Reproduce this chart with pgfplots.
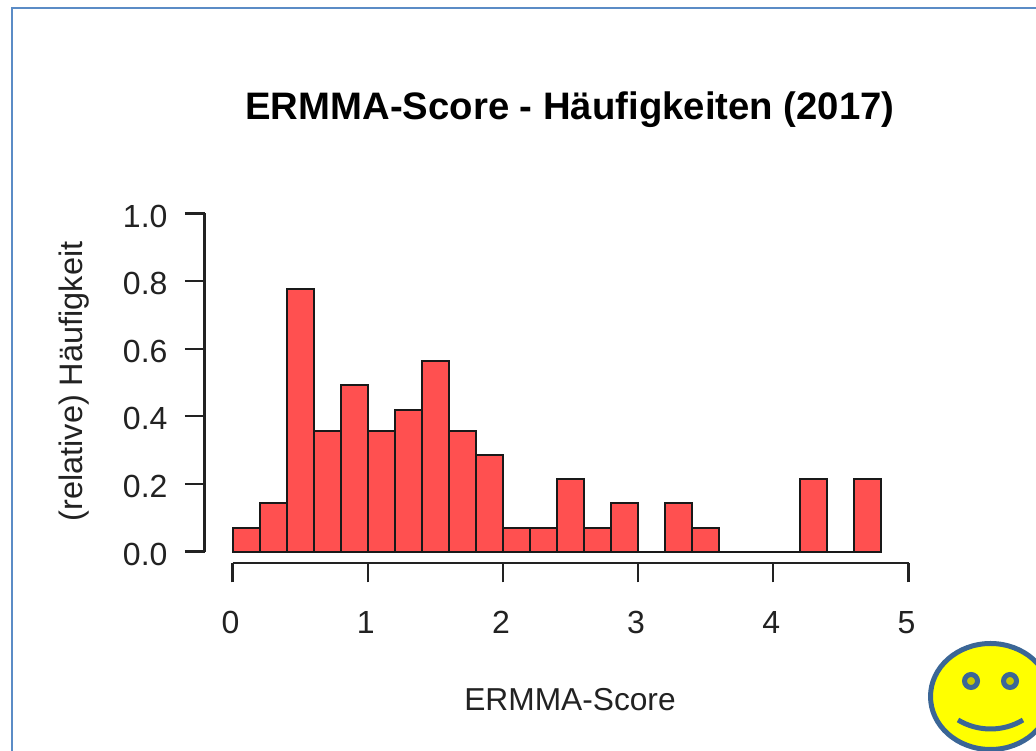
\documentclass[border=0pt]{standalone}
\usepackage{pgfplots}
\pgfplotsset{compat=1.18}
\usepackage{fontspec}
\setmainfont{Liberation Sans}
\definecolor{txt}{HTML}{222222}
\definecolor{frameblue}{HTML}{5B8CC6}
\definecolor{smile}{HTML}{3B6696}
\definecolor{barred}{HTML}{FF5050}
\definecolor{puryellow}{HTML}{FFFF00}
\definecolor{eyeyellow}{HTML}{C8C800}
\begin{document}
\begin{tikzpicture}[x=1pt,y=1pt]
\useasboundingbox (0,0) rectangle (1036,751);
\clip (0,0) rectangle (1036,751);
\fill[white] (0,0) rectangle (1036,751);
\draw[frameblue,line width=1.6pt] (12,-5) -- (12,743) -- (1040,743);
\begin{axis}[
  at={(204.5pt,188pt)}, anchor=south west,
  scale only axis, width=704pt, height=349.5pt,
  xmin=-0.2071, xmax=5, ymin=-0.034, ymax=1,
  axis lines=left, axis line style={draw=none,-},
  clip=false,
  xtick={0,1,2,3,4,5}, ytick={0,0.2,0.4,0.6,0.8,1},
  tick align=outside, major tick length=19.5pt,
  tick style={txt,line width=2.2pt},
  /pgf/number format/assume math mode=true,
  /pgf/number format/fixed,
  yticklabel style={/pgf/number format/fixed zerofill,/pgf/number format/precision=1},
  tick label style={font=\fontsize{32}{36}\selectfont,text=txt},
  xticklabel style={yshift=-25pt,xshift=-2pt},
  yticklabel style={xshift=-14pt,yshift=-2.5pt},
]
\addplot[ybar interval,fill=barred,draw=black!90,line width=2pt] coordinates {
(0,0.071)(0.2,0.143)(0.4,0.777)(0.6,0.357)(0.8,0.493)(1,0.357)(1.2,0.42)(1.4,0.564)(1.6,0.357)(1.8,0.286)(2,0.071)(2.2,0.071)(2.4,0.214)(2.6,0.071)(2.8,0.143)(3,0)(3.2,0.143)(3.4,0.071)(3.6,0)(3.8,0)(4,0)(4.2,0.214)(4.4,0)(4.6,0.214)(4.8,0)};
\draw[txt,line width=2.2pt] (axis cs:0,-0.034) -- (axis cs:5,-0.034);
\draw[txt,line width=2.2pt] (axis cs:-0.2071,0) -- (axis cs:-0.2071,1);
\end{axis}
\node[text=black,font=\fontsize{38.3}{44}\selectfont\bfseries] at (570,641) {ERMMA-Score - Häufigkeiten (2017)};
\node[text=txt,font=\fontsize{31.7}{36}\selectfont] at (570,51) {ERMMA-Score};
\node[text=txt,font=\fontsize{32.5}{36}\selectfont,rotate=90] at (74,369.5) {(relative) Häufigkeit};
\filldraw[fill=puryellow,draw=smile,line width=5pt] (990.5,54.5) ellipse (60 and 53);
\filldraw[fill=eyeyellow,draw=smile,line width=5pt] (971,70) circle (6.5);
\filldraw[fill=eyeyellow,draw=smile,line width=5pt] (1010,70) circle (6.5);
\draw[smile,line width=5pt] (958,31) .. controls (978,19) and (1003,19) .. (1023,31);
\end{tikzpicture}
\end{document}
